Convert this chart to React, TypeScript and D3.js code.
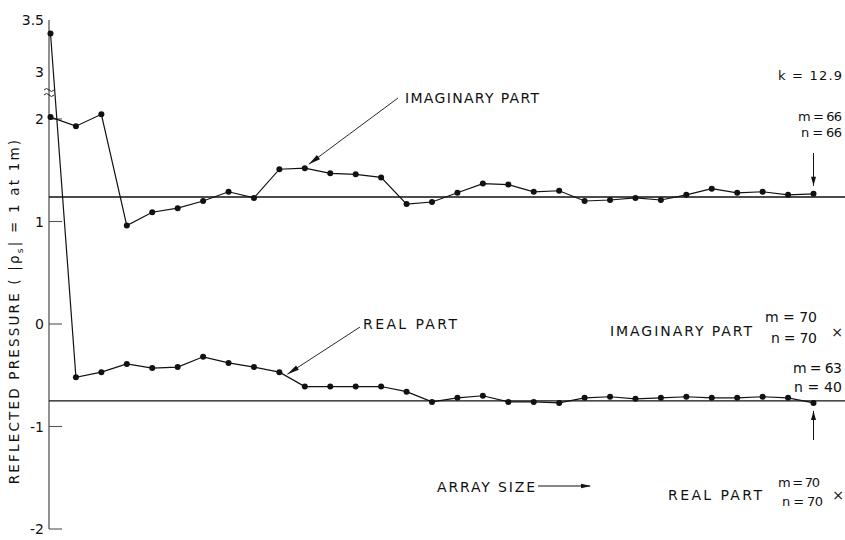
import React from "react";
import * as d3 from "d3";

// Array-size step index (0..30) along the horizontal axis
const steps: number[] = d3.range(31);

// Imaginary part of the reflected pressure for each array size
const imaginaryPart: number[] = [
  2.04, 1.93, 2.1, 0.96, 1.09, 1.13, 1.2, 1.29, 1.23, 1.51, 1.52, 1.47, 1.46,
  1.43, 1.17, 1.19, 1.28, 1.37, 1.36, 1.29, 1.3, 1.2, 1.21, 1.23, 1.21, 1.26,
  1.32, 1.28, 1.29, 1.26, 1.27,
];

// Real part of the reflected pressure for each array size
const realPart: number[] = [
  3.37, -0.52, -0.47, -0.39, -0.43, -0.42, -0.32, -0.38, -0.42, -0.47, -0.61,
  -0.61, -0.61, -0.61, -0.66, -0.76, -0.72, -0.7, -0.76, -0.76, -0.77, -0.72,
  -0.71, -0.73, -0.72, -0.71, -0.72, -0.72, -0.71, -0.72, -0.77,
];

// Limiting values (m = n = 70) drawn as horizontal reference lines
const imaginaryLimit = 1.24;
const realLimit = -0.75;

// Y-axis ticks and labels (axis is broken between 2 and 3)
const yTicks: number[] = [-2, -1, 0, 1, 2, 3, 3.5];
const yTickLabels: string[] = ["-2", "-1", "0", "1", "2", "3", "3.5"];
const yTickMarks: number[] = [-2, -1, 0, 1, 2];

const W = 845;
const H = 540;
const FONT = "'DejaVu Sans', 'Liberation Sans', sans-serif";

function arrowHead(
  x1: number,
  y1: number,
  x2: number,
  y2: number,
  len: number,
  half: number
): string {
  const dx = x2 - x1;
  const dy = y2 - y1;
  const d = Math.hypot(dx, dy);
  const ux = dx / d;
  const uy = dy / d;
  const bx = x2 - ux * len;
  const by = y2 - uy * len;
  const px = -uy * half;
  const py = ux * half;
  return `${x2},${y2} ${bx + px},${by + py} ${bx - px},${by - py}`;
}

export default function App() {
  const x = d3.scaleLinear().domain([0, 30]).range([50.5, 813.5]);
  // piecewise scale: compressed gap between 2 and 3 for the axis break
  const y = d3.scaleLinear().domain([-2, 2, 3, 3.5]).range([529, 119, 72, 20]);

  const axisX = 49;
  const xEnd = W;

  const line = d3
    .line<number>()
    .x((_, i) => x(steps[i]))
    .y((v) => y(v));

  const last = steps.length - 1;

  // pointer arrows toward the curves
  const imPtrTip = { x: x(10) + 4, y: y(imaginaryPart[10]) - 4 };
  const imPtrStart = { x: 398, y: 98 };
  const rePtrTip = { x: x(9) + 8, y: y(realPart[9]) + 2 };
  const rePtrStart = { x: 360, y: 327 };

  const txt = (
    s: string,
    tx: number,
    ty: number,
    size: number,
    len?: number,
    anchor: "start" | "end" | "middle" = "start"
  ) => (
    <text
      x={tx}
      y={ty}
      fontSize={size}
      fontFamily={FONT}
      textAnchor={anchor}
      fill="#111"
      textLength={len}
      lengthAdjust={len ? "spacing" : undefined}
    >
      {s}
    </text>
  );

  return (
    <svg
      width={W}
      height={H}
      style={{ position: "absolute", left: 0, top: 0, background: "#fff" }}
    >
      <rect width={W} height={H} fill="#fff" />

      {/* vertical axis */}
      <line
        x1={axisX}
        x2={axisX}
        y1={y(3.5)}
        y2={y(-2)}
        stroke="#555"
        strokeWidth={1.3}
      />
      {yTickMarks.map((t) => (
        <line
          key={"tm" + t}
          x1={axisX}
          x2={axisX + 13}
          y1={y(t)}
          y2={y(t)}
          stroke="#555"
          strokeWidth={1.1}
        />
      ))}
      {yTicks.map((t, i) => (
        <text
          key={"tl" + t}
          x={44}
          y={y(t)}
          dy="0.36em"
          fontSize={14}
          fontFamily={FONT}
          textAnchor="end"
          fill="#111"
        >
          {yTickLabels[i]}
        </text>
      ))}
      {/* axis break mark: two small tildes across the axis */}
      <path
        d={`M ${axisX - 5} 90 q 2.5 -3 5 0 q 2.5 3 5 0 M ${axisX - 5} 95 q 2.5 -3 5 0 q 2.5 3 5 0`}
        fill="none"
        stroke="#222"
        strokeWidth={1}
      />

      {/* axis title */}
      <text
        transform={`translate(19, 311) rotate(-90)`}
        fontSize={13.5}
        fontFamily={FONT}
        textAnchor="middle"
        fill="#111"
        letterSpacing={2.2}
      >
        REFLECTED PRESSURE ( |ρ
        <tspan fontSize={9} dy={4}>
          s
        </tspan>
        <tspan dy={-4}>| = 1 at 1m)</tspan>
      </text>

      {/* limiting-value reference lines */}
      <line
        x1={axisX}
        x2={xEnd}
        y1={y(imaginaryLimit)}
        y2={y(imaginaryLimit)}
        stroke="#111"
        strokeWidth={1.5}
      />
      <line
        x1={axisX}
        x2={xEnd}
        y1={y(realLimit)}
        y2={y(realLimit)}
        stroke="#111"
        strokeWidth={1.2}
      />

      {/* curves */}
      <path
        d={line(imaginaryPart) || ""}
        fill="none"
        stroke="#111"
        strokeWidth={1.2}
      />
      <path
        d={line(realPart) || ""}
        fill="none"
        stroke="#111"
        strokeWidth={1.2}
      />
      {imaginaryPart.map((v, i) => (
        <circle key={"ip" + i} cx={x(steps[i])} cy={y(v)} r={3} fill="#111" />
      ))}
      {realPart.map((v, i) => (
        <circle key={"rp" + i} cx={x(steps[i])} cy={y(v)} r={3} fill="#111" />
      ))}

      {/* curve labels with pointers */}
      {txt("IMAGINARY PART", 405, 103, 14, 134)}
      <line
        x1={imPtrStart.x}
        y1={imPtrStart.y}
        x2={imPtrTip.x}
        y2={imPtrTip.y}
        stroke="#111"
        strokeWidth={0.9}
      />
      <polygon
        points={arrowHead(imPtrStart.x, imPtrStart.y, imPtrTip.x, imPtrTip.y, 12, 2.6)}
        fill="#111"
      />
      {txt("REAL PART", 363, 329, 14, 94)}
      <line
        x1={rePtrStart.x}
        y1={rePtrStart.y}
        x2={rePtrTip.x}
        y2={rePtrTip.y}
        stroke="#111"
        strokeWidth={0.9}
      />
      <polygon
        points={arrowHead(rePtrStart.x, rePtrStart.y, rePtrTip.x, rePtrTip.y, 12, 2.6)}
        fill="#111"
      />

      {/* parameter and convergence annotations */}
      {txt("k = 12.9", 842, 80, 13, 64, "end")}
      {txt("m = 66", 842, 121, 13, 44, "end")}
      {txt("n = 66", 842, 137, 13, 41, "end")}
      <line
        x1={x(last)}
        x2={x(last)}
        y1={153}
        y2={y(imaginaryPart[last]) - 8}
        stroke="#111"
        strokeWidth={1}
      />
      <polygon
        points={arrowHead(x(last), 153, x(last), y(imaginaryPart[last]) - 8, 9, 2.5)}
        fill="#111"
      />

      {txt("IMAGINARY PART", 610, 336, 14, 142)}
      {txt("m = 70", 817, 322, 14, 52, "end")}
      {txt("n = 70", 817, 343, 14, 46, "end")}
      {txt("×", 837, 337, 14, undefined, "middle")}

      {txt("m = 63", 842, 373, 14, 49, "end")}
      {txt("n = 40", 842, 392, 14, 48, "end")}
      <line
        x1={x(last)}
        x2={x(last)}
        y1={440}
        y2={y(realPart[last]) + 8}
        stroke="#111"
        strokeWidth={1}
      />
      <polygon
        points={arrowHead(x(last), 440, x(last), y(realPart[last]) + 8, 9, 2.5)}
        fill="#111"
      />

      {txt("ARRAY SIZE", 437, 492, 14, 98)}
      <line x1={538} x2={590} y1={486} y2={486} stroke="#111" strokeWidth={1} />
      <polygon points={arrowHead(538, 486, 591, 486, 10, 2.2)} fill="#111" />

      {txt("REAL PART", 668, 500, 14, 94)}
      {txt("m = 70", 820, 487, 13, 42, "end")}
      {txt("n = 70", 823, 506, 13, 41, "end")}
      {txt("×", 838, 500, 14, undefined, "middle")}
    </svg>
  );
}
